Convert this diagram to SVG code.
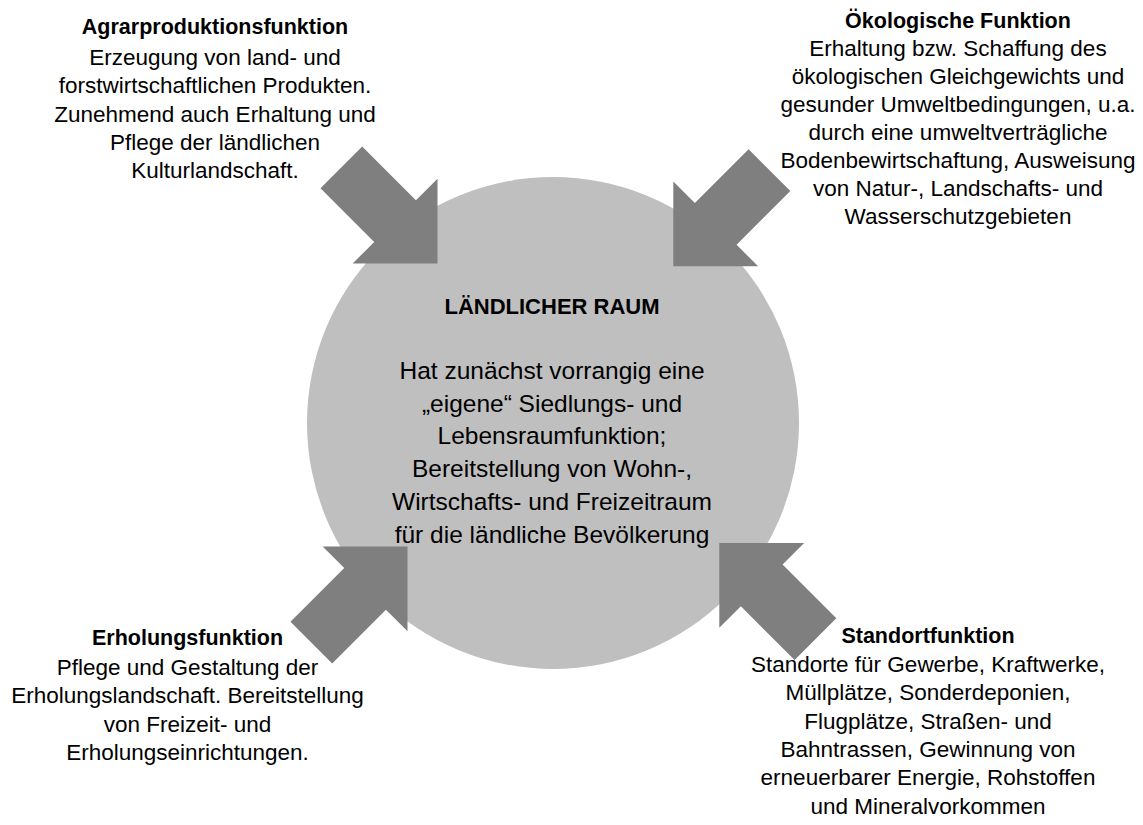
<svg xmlns="http://www.w3.org/2000/svg" width="1143" height="825" viewBox="0 0 1143 825">
  <defs>
    <style>
      .txt { font-family: "Liberation Sans", Arial, sans-serif; fill: #000; text-anchor: middle; }
      .hd { font-weight: bold; font-size: 21.5px; }
      .bd { font-size: 22.5px; }
      .chd { font-weight: bold; font-size: 22px; }
      .cbd { font-size: 24.5px; }
      .arrow { fill: #7f7f7f; }
      .hub { fill: #bfbfbf; }
    </style>
    <!-- block arrow pointing along +x, tip at the origin -->
    <path id="blockArrow" d="M0,0 L-60,-60 L-60,-29.5 L-136,-29.5 L-136,29.5 L-60,29.5 L-60,60 Z"/>
  </defs>

  <rect width="1143" height="825" fill="#ffffff"/>

  <!-- central node: rural area -->
  <g id="laendlicher-raum">
    <circle class="hub" cx="553" cy="423" r="246"/>
    <text class="txt chd" x="552" y="313.6">LÄNDLICHER RAUM</text>
    <text class="txt cbd" x="552" y="379">Hat zunächst vorrangig eine</text>
    <text class="txt cbd" x="552" y="411.7">„eigene“ Siedlungs- und</text>
    <text class="txt cbd" x="552" y="444.4">Lebensraumfunktion;</text>
    <text class="txt cbd" x="552" y="477.1">Bereitstellung von Wohn-,</text>
    <text class="txt cbd" x="552" y="509.8">Wirtschafts- und Freizeitraum</text>
    <text class="txt cbd" x="552" y="542.5">für die ländliche Bevölkerung</text>
  </g>

  <!-- connectors: four block arrows pointing into the circle -->
  <g id="connectors">
    <use href="#blockArrow" class="arrow" transform="translate(437.5,263.5) rotate(45)"/>
    <use href="#blockArrow" class="arrow" transform="translate(673.3,266.3) rotate(135)"/>
    <use href="#blockArrow" class="arrow" transform="translate(407.5,546.5) rotate(-45)"/>
    <use href="#blockArrow" class="arrow" transform="translate(719.3,543) rotate(-135)"/>
  </g>

  <g id="agrarproduktionsfunktion">
    <text class="txt hd" x="215" y="34.3">Agrarproduktionsfunktion</text>
    <text class="txt bd" x="215" y="65">Erzeugung von land- und</text>
    <text class="txt bd" x="215" y="93.3">forstwirtschaftlichen Produkten.</text>
    <text class="txt bd" x="215" y="121.7">Zunehmend auch Erhaltung und</text>
    <text class="txt bd" x="215" y="150">Pflege der ländlichen</text>
    <text class="txt bd" x="215" y="178.3">Kulturlandschaft.</text>
  </g>

  <g id="oekologische-funktion">
    <text class="txt hd" x="958" y="28.3">Ökologische Funktion</text>
    <text class="txt bd" x="958" y="55.7">Erhaltung bzw. Schaffung des</text>
    <text class="txt bd" x="958" y="83.75">ökologischen Gleichgewichts und</text>
    <text class="txt bd" x="958" y="111.8">gesunder Umweltbedingungen, u.a.</text>
    <text class="txt bd" x="958" y="139.85">durch eine umweltverträgliche</text>
    <text class="txt bd" x="958" y="167.9">Bodenbewirtschaftung, Ausweisung</text>
    <text class="txt bd" x="958" y="195.95">von Natur-, Landschafts- und</text>
    <text class="txt bd" x="958" y="224">Wasserschutzgebieten</text>
  </g>

  <g id="erholungsfunktion">
    <text class="txt hd" x="187.5" y="645">Erholungsfunktion</text>
    <text class="txt bd" x="187.5" y="675">Pflege und Gestaltung der</text>
    <text class="txt bd" x="187.5" y="703.3">Erholungslandschaft. Bereitstellung</text>
    <text class="txt bd" x="187.5" y="731.7">von Freizeit- und</text>
    <text class="txt bd" x="187.5" y="760">Erholungseinrichtungen.</text>
  </g>

  <g id="standortfunktion">
    <text class="txt hd" x="928" y="643">Standortfunktion</text>
    <text class="txt bd" x="928" y="672">Standorte für Gewerbe, Kraftwerke,</text>
    <text class="txt bd" x="928" y="700.3">Müllplätze, Sonderdeponien,</text>
    <text class="txt bd" x="928" y="728.6">Flugplätze, Straßen- und</text>
    <text class="txt bd" x="928" y="757">Bahntrassen, Gewinnung von</text>
    <text class="txt bd" x="928" y="785.3">erneuerbarer Energie, Rohstoffen</text>
    <text class="txt bd" x="928" y="813.6">und Mineralvorkommen</text>
  </g>
</svg>
